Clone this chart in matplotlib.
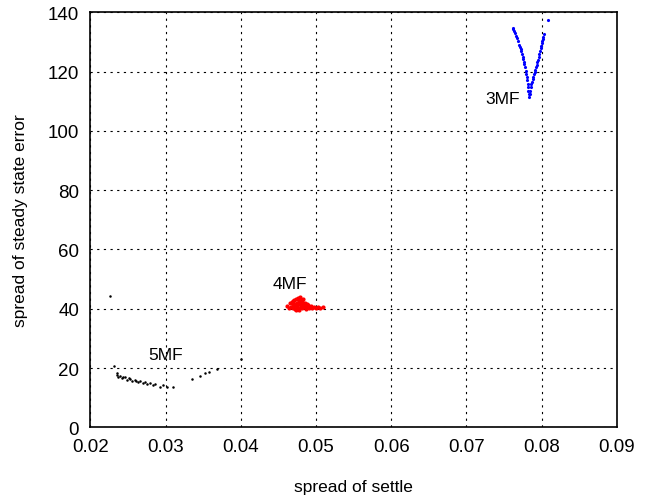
import matplotlib
matplotlib.use("Agg")
import matplotlib.pyplot as plt

plt.rcParams['font.family'] = ['Liberation Sans', 'DejaVu Sans']

# 3MF (blue) - V shape
x3 = [0.07617, 0.07625, 0.07634, 0.07648, 0.07661, 0.07675, 0.07688, 0.07705, 0.07715,
      0.07723, 0.07732, 0.07741, 0.07750, 0.07758, 0.07765, 0.07772, 0.07780, 0.07789,
      0.07796, 0.07803, 0.07810, 0.07816, 0.07820, 0.07825, 0.07830, 0.07834, 0.07840,
      0.07847, 0.07856, 0.07865, 0.07874, 0.07883, 0.07890, 0.07900, 0.07908, 0.07915,
      0.07927, 0.07936, 0.07945, 0.07955, 0.07962, 0.07971, 0.07980, 0.07987, 0.07993,
      0.08000, 0.08007, 0.08015, 0.08024, 0.08038, 0.08086]
y3 = [134.7, 134.2, 133.8, 133.0, 132.1, 131.3, 130.4, 129.0, 128.2,
      127.6, 126.8, 125.9, 125.0, 124.3, 123.4, 122.6, 121.5, 120.3,
      119.2, 118.1, 117.0, 115.8, 114.7, 113.6, 112.4, 111.3, 112.5,
      113.6, 114.8, 115.8, 116.6, 117.5, 118.3, 119.2, 119.8, 120.5,
      121.4, 122.2, 123.1, 124.0, 124.8, 126.0, 127.1, 128.0, 128.8,
      129.5, 130.4, 131.0, 131.6, 132.7, 137.4]

# 4MF (red) cluster
x4 = [0.0462, 0.0464, 0.0466, 0.0467, 0.0468, 0.0469, 0.0470, 0.0471, 0.0472, 0.0472,
      0.0473, 0.0474, 0.0475, 0.0475, 0.0476, 0.0477, 0.0477, 0.0478, 0.0478, 0.0479,
      0.0480, 0.0480, 0.0481, 0.0482, 0.0482, 0.0483, 0.0484, 0.0485, 0.0486, 0.0487,
      0.0488, 0.0489, 0.0490, 0.0491, 0.0493, 0.0495, 0.0497, 0.0500, 0.0503, 0.0506,
      0.0509, 0.0474, 0.0479, 0.0483, 0.0470]
y4 = [41.0, 40.3, 41.8, 40.6, 42.2, 41.3, 40.1, 42.8, 41.5, 39.8,
      43.2, 40.7, 42.0, 41.1, 43.6, 40.4, 42.5, 41.7, 39.6, 43.0,
      40.9, 42.3, 41.4, 40.2, 42.9, 41.8, 40.5, 42.1, 41.0, 40.0,
      41.6, 40.8, 41.3, 40.3, 40.9, 40.1, 40.6, 40.4, 40.7, 40.3,
      40.5, 39.5, 43.9, 43.3, 42.6]

# 5MF (black)
x5 = [0.02262, 0.02315, 0.02351, 0.02360, 0.02370, 0.02395, 0.02420, 0.02440, 0.02461,
      0.02490, 0.02510, 0.02528, 0.02560, 0.02594, 0.02610, 0.02630, 0.02661, 0.02700,
      0.02727, 0.02760, 0.02794, 0.02830, 0.02860, 0.02930, 0.02970, 0.03016, 0.03104,
      0.03348, 0.03459, 0.03525, 0.03579, 0.03680, 0.04004]
y5 = [44.4, 20.8, 18.3, 17.6, 17.0, 17.3, 16.6, 17.1, 17.0,
      16.1, 16.6, 16.3, 15.6, 16.0, 15.5, 15.3, 15.6, 15.0,
      15.3, 14.7, 15.0, 14.4, 14.6, 13.5, 14.2, 13.5, 13.5,
      16.3, 17.4, 18.2, 18.5, 19.7, 23.0]

labels = ["3MF", "4MF", "5MF"]
label_x = [0.07488, 0.04656, 0.03007]
label_y = [110.8, 48.4, 24.4]

fig = plt.figure(figsize=(6.52, 5.02), dpi=100)
ax = fig.add_axes([0.1385, 0.1468, 0.8075, 0.8267])

ax.plot(x3, y3, '.', color='blue', markersize=2.5)
ax.plot(x4, y4, '.', color='red', markersize=4)
ax.plot(x5, y5, '.', color='black', markersize=1.6)

for t, lx, ly in zip(labels, label_x, label_y):
    ax.text(lx, ly, t, fontsize=12.5, ha='center', va='center')

ax.set_xlim(0.02, 0.09)
ax.set_ylim(0, 140)
ax.set_xticks([0.02, 0.03, 0.04, 0.05, 0.06, 0.07, 0.08, 0.09])
ax.set_xticklabels(["0.02", "0.03", "0.04", "0.05", "0.06", "0.07", "0.08", "0.09"])
ax.set_yticks(range(0, 141, 20))
ax.grid(True, color='black', linestyle=(0, (2, 4)), linewidth=0.8)
ax.tick_params(labelsize=13.5, length=0, pad=8)
ax.set_xlabel("spread of settle", fontsize=12.5, labelpad=17)
ax.set_ylabel("spread of steady state error", fontsize=12.5, labelpad=14)
for s in ax.spines.values():
    s.set_linewidth(1.2)

fig.savefig("out.png", dpi=100)
